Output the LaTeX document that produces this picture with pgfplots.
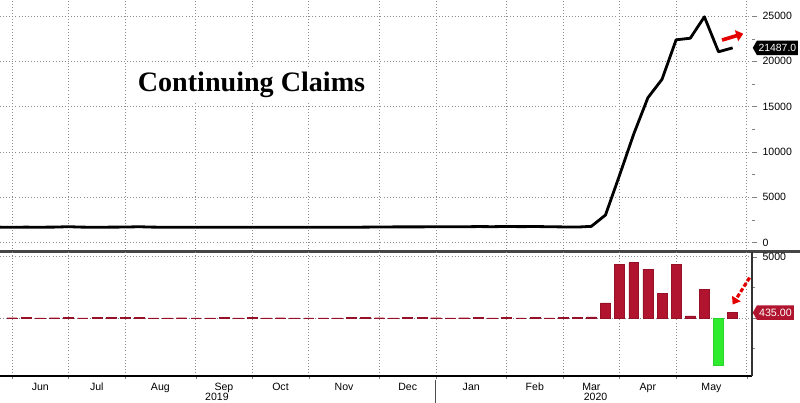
\documentclass[border=0pt]{standalone}
\usepackage{pgfplots}
\pgfplotsset{compat=1.18}
\usepackage{fontspec}
\setmainfont{Liberation Sans}
\newfontfamily\titlefont{Liberation Serif}
\usetikzlibrary{shapes.symbols,arrows.meta}
\definecolor{barred}{HTML}{B0142E}
\definecolor{bargreen}{HTML}{2EEB2E}
\definecolor{gridgray}{HTML}{8C8C8C}

\pgfplotstableread{
w v
-1 1695
0 1690
1 1695
2 1690
3 1700
4 1745
5 1695
6 1690
7 1695
8 1705
9 1740
10 1695
11 1690
12 1688
13 1690
14 1692
15 1688
16 1690
17 1690
18 1688
19 1690
20 1692
21 1690
22 1688
23 1690
24 1690
25 1695
26 1715
27 1722
28 1725
29 1728
30 1730
31 1732
32 1738
33 1760
34 1745
35 1770
36 1750
37 1765
38 1740
39 1720
40 1702
41 1784
42 3029
43 7446
44 11976
45 15976
46 18011
47 22377
48 22548
49 24912
50 21052
51 21487
}\claims

\pgfplotstableread{
w d
0 20
1 30
3 20
4 50
6 30
7 40
8 30
9 40
11 10
12 20
14 10
15 40
17 30
19 20
20 10
22 10
24 40
25 30
26 20
28 40
29 30
30 20
32 20
33 40
35 30
37 40
39 30
40 60
41 80
42 1245
43 4417
44 4530
45 4000
46 2035
47 4366
48 171
49 2364
51 435
}\pos

\pgfplotstableread{
w d
2 -10
5 -30
10 -30
13 -20
16 -20
18 -10
21 -20
23 -20
27 -10
31 -20
34 -20
36 -30
38 -20
}\smallneg

\pgfplotstableread{
w d
50 -3860
}\neg

\pgfplotsset{
  common/.style={
    scale only axis,
    width=18.8cm,
    xmin=-0.85, xmax=52.37,
    anchor=south west,
    clip mode=individual,
    axis line style={draw=none},
    tick align=outside,
    ytick pos=right,
    yticklabel pos=right,
    xtick pos=bottom,
    xtick={2,6,10.5,15,19,23.5,28,32.5,37,41,45,49.5},
    minor xtick={0,4,8,13,17,21,26,30,35,39,43,47,52},
    major x tick style={draw=none},
    xmajorgrids=false,
    xminorgrids=true,
    ymajorgrids=true,
    grid style={gridgray, line width=0.55pt, dash pattern=on 0.6pt off 1.6pt},
    minor grid style={gridgray, line width=0.55pt, dash pattern=on 0.6pt off 1.6pt},
    major tick length=3.5pt,
    minor tick length=2.2pt,
    scaled y ticks=false,
    ticklabel style={font=\fontsize{7.5}{9}\selectfont},
    /pgf/number format/assume math mode=true,
    /pgf/number format/set thousands separator={},
    yticklabel style={xshift=0.5pt},
  }
}

\begin{document}
\begin{tikzpicture}
\path[use as bounding box] (0,0) rectangle (20cm,10.075cm);

% ---------- top panel ----------
\begin{axis}[common,
  at={(0cm,3.85cm)},
  height=6.225cm,
  ymin=-717, ymax=26770,
  ytick={0,5000,10000,15000,20000,25000},
  minor ytick={2500,7500,12500,17500,22500},
  xticklabels={},
  minor x tick style={draw=none},
]
\addplot[black, line width=2pt, line join=round] table[x=w,y=v] {\claims};
\node[fill=white, inner sep=3pt, font=\titlefont\bfseries\fontsize{20}{22}\selectfont]
  at (axis cs:16.95,17400) {Continuing Claims};
\node[signal, signal to=west, signal pointer angle=120, fill=black, text=white,
  inner xsep=1.2pt, inner ysep=2.5pt, anchor=west,
  font=\fontsize{7.4}{9}\selectfont] at (axis cs:52.4,21487) {21487.0};
\draw[red!90!black, line width=2.6pt, -{Triangle[length=5pt,width=8pt]}]
  (axis cs:50.25,22350) -- (axis cs:51.75,23050);
\end{axis}

% separator
\draw[gray!55!black, line width=2.3pt] (0cm,3.7875cm) -- (20cm,3.7875cm);

% ---------- bottom panel ----------
\begin{axis}[common,
  at={(0cm,0.675cm)},
  height=3.1cm,
  ymin=-4750, ymax=5400,
  ytick={0,5000},
  yticklabels={,5000},
  minor ytick={-2500,2500},
  xticklabels={Jun,Jul,Aug,Sep,Oct,Nov,Dec,Jan,Feb,Mar,Apr,May},
  xticklabel style={yshift=1.8pt},
]
\addplot[ybar, bar width=0.7, bar shift=0pt, fill=barred, draw=barred!85!black, line width=0.3pt]
  table[x=w,y=d] {\pos};
\addplot[ybar, bar width=0.7, bar shift=0pt, fill=barred, draw=barred!85!black, line width=0.3pt]
  table[x=w,y=d] {\smallneg};
\addplot[ybar, bar width=0.7, bar shift=0pt, fill=bargreen, draw=bargreen!90!black, line width=0.3pt]
  table[x=w,y=d] {\neg};
\draw[black, line width=1pt] (rel axis cs:0,0) -- (rel axis cs:1,0);
\draw[black!80, line width=0.8pt] (rel axis cs:1,0) -- (rel axis cs:1,1);
\node[font=\fontsize{7.5}{9}\selectfont, anchor=north, inner sep=0pt] at ([yshift=-0.41cm]axis cs:14.5,-4750) {2019};
\node[font=\fontsize{7.5}{9}\selectfont, anchor=north, inner sep=0pt] at ([yshift=-0.41cm]axis cs:41.3,-4750) {2020};
\draw[black!70, line width=0.6pt] ([yshift=-0.1cm]axis cs:30,-4750) -- ([yshift=-0.7cm]axis cs:30,-4750);
\node[signal, signal to=west, signal pointer angle=120, fill=barred, text=white,
  inner xsep=1.5pt, inner ysep=2.5pt, anchor=west,
  font=\fontsize{7.6}{9}\selectfont] at (axis cs:52.4,435) {435.00};
\draw[red!90!black, line width=2.2pt, dash pattern=on 3pt off 1.5pt, -{Triangle[length=5pt,width=7pt]}]
  (axis cs:52.2,3300) -- (axis cs:51.0,1100);
\end{axis}
\end{tikzpicture}
\end{document}
